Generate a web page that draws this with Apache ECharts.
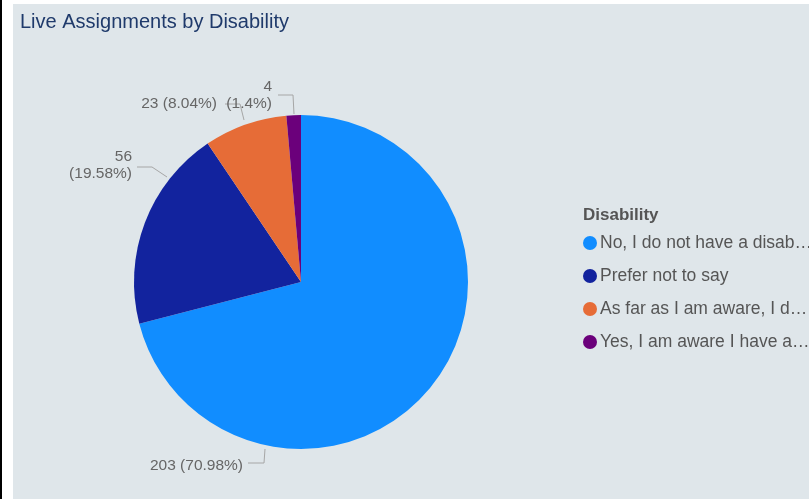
<!DOCTYPE html>
<html>
<head>
<meta charset="utf-8">
<script src="https://cdn.jsdelivr.net/npm/echarts@6/dist/echarts.min.js"></script>
<style>
html,body{margin:0;padding:0;background:#ffffff;width:809px;height:499px;overflow:hidden;}
#bar{position:absolute;left:0;top:0;width:2px;height:499px;background:#000;}
#chart{position:absolute;left:13px;top:4px;width:796px;height:495px;background:#dfe6ea;}
</style>
</head>
<body>
<div id="bar"></div>
<div id="chart"></div>
<script>
const categories = [
  "No, I do not have a disability",
  "Prefer not to say",
  "As far as I am aware, I do not have a disability",
  "Yes, I am aware I have a disability"
];
const values = [203, 56, 23, 4];
const colors = ["#118DFF", "#12239E", "#E66C37", "#6B007B"];
const twoLine = [false, true, false, true];

const total = values.reduce((a, b) => a + b, 0);
const FONT = "'Liberation Sans', Arial, sans-serif";

// label placements (chart pixel positions), styling only
const labelPlace = [
  {x: 230, y: 462, pts: [[252, 445], [251, 459], [235, 459]]},
  {x: 119, y: 161, pts: [[154, 173], [139, 163], [124, 163]]},
  {x: 204, y: 100, pts: [[231, 116], [227, 100], [212, 100]]},
  {x: 259, y: 91,  pts: [[281, 110], [280, 91], [265, 91]]}
];

const chart = echarts.init(document.getElementById('chart'));
chart.setOption({
  backgroundColor: '#dfe6ea',
  title: [
    {text: 'Live Assignments by Disability', left: 7, top: 8, padding: 0,
     textStyle: {fontFamily: FONT, fontSize: 20, fontWeight: 'normal', color: '#1f3a6b'}},
    {text: 'Disability', left: 570, top: 203, padding: 0,
     textStyle: {fontFamily: FONT, fontSize: 17, fontWeight: 'bold', color: '#555555'}}
  ],
  legend: {
    orient: 'vertical',
    left: 570,
    top: 230,
    padding: 0,
    icon: 'circle',
    itemWidth: 14,
    itemHeight: 14,
    itemGap: 15,
    data: categories,
    textStyle: {fontFamily: FONT, fontSize: 17.5, lineHeight: 18, color: '#555555',
      width: 214, overflow: 'truncate', ellipsis: '…', padding: [0, 0, 0, -2]}
  },
  series: [{
    type: 'pie',
    center: [288, 278],
    radius: 167,
    startAngle: 90,
    clockwise: true,
    avoidLabelOverlap: false,
    data: categories.map((c, i) => ({name: c, value: values[i], itemStyle: {color: colors[i]}})),
    label: {
      show: true,
      position: 'outside',
      fontFamily: FONT,
      fontSize: 15.5,
      lineHeight: 17,
      color: '#666666',
      formatter: function (p) {
        const pct = parseFloat((p.value / total * 100).toFixed(2));
        return p.value + (twoLine[p.dataIndex] ? '\n' : ' ') + '(' + pct + '%)';
      }
    },
    labelLine: {show: true, length: 12, length2: 15, lineStyle: {color: '#a6a6a6', width: 1}},
    labelLayout: function (p) {
      const L = labelPlace[p.dataIndex];
      return {x: L.x, y: L.y, align: 'right', verticalAlign: 'middle', labelLinePoints: L.pts};
    },
    emphasis: {disabled: true}
  }]
});
</script>
</body>
</html>
